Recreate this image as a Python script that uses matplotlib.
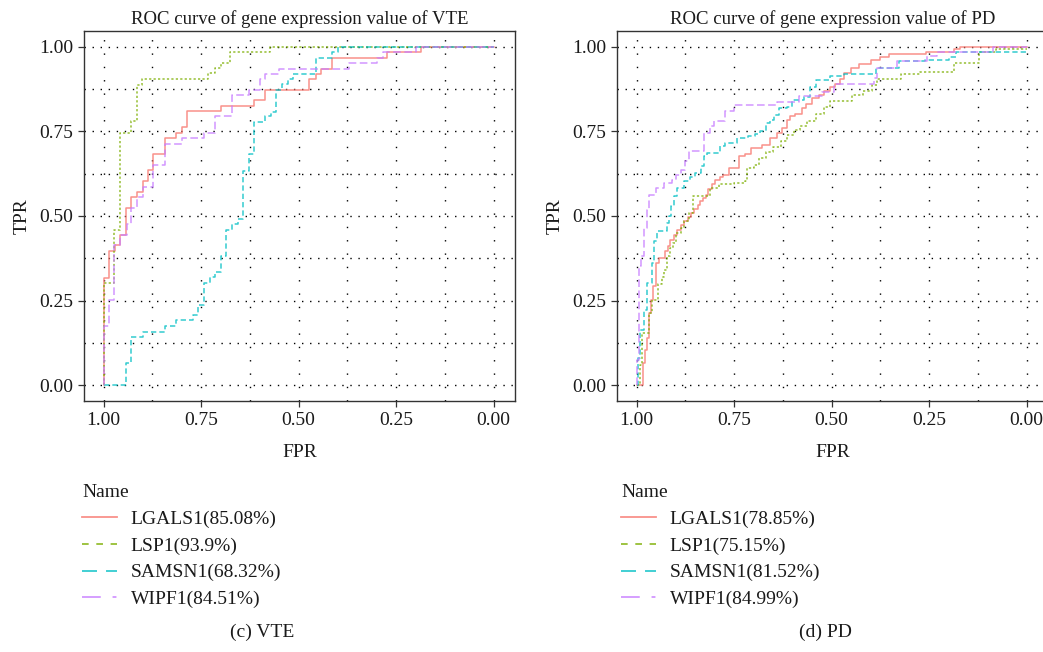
import matplotlib
matplotlib.use("Agg")
import matplotlib.pyplot as plt
from matplotlib.lines import Line2D
from matplotlib.ticker import MultipleLocator

plt.rcParams['font.family'] = ['Liberation Serif', 'DejaVu Serif']
plt.rcParams['lines.scale_dashes'] = False

genes = ["LGALS1", "LSP1", "SAMSN1", "WIPF1"]
vte_auc = ["85.08%", "93.9%", "68.32%", "84.51%"]
pd_auc = ["78.85%", "75.15%", "81.52%", "84.99%"]

# VTE panel, step corners (x = axis value, y = TPR)
vte_lgals1_x = [1.0, 1.0, 0.985, 0.971, 0.957, 0.943, 0.929, 0.915, 0.900, 0.885, 0.872, 0.842,
                0.814, 0.799, 0.786, 0.699, 0.614, 0.585, 0.472, 0.456, 0.442, 0.414, 0.272, 0.185, 0.0]
vte_lgals1_y = [0.0, 0.317, 0.398, 0.413, 0.444, 0.523, 0.555, 0.571, 0.604, 0.635, 0.682, 0.730,
                0.746, 0.762, 0.809, 0.824, 0.841, 0.872, 0.904, 0.919, 0.934, 0.967, 0.983, 1.0, 1.0]

vte_lsp1_x = [1.0, 1.0, 0.972, 0.957, 0.929, 0.914, 0.902, 0.731, 0.714, 0.699, 0.675, 0.573, 0.0]
vte_lsp1_y = [0.0, 0.302, 0.459, 0.746, 0.779, 0.887, 0.904, 0.922, 0.936, 0.951, 0.983, 1.0, 1.0]

vte_samsn1_x = [1.0, 0.943, 0.929, 0.900, 0.842, 0.814, 0.771, 0.757, 0.742, 0.728, 0.714, 0.699,
                0.685, 0.671, 0.656, 0.643, 0.628, 0.614, 0.585, 0.571, 0.557, 0.543, 0.528, 0.513,
                0.456, 0.414, 0.399, 0.0]
vte_samsn1_y = [0.0, 0.066, 0.143, 0.159, 0.176, 0.192, 0.208, 0.238, 0.302, 0.320, 0.334, 0.381,
                0.459, 0.477, 0.492, 0.634, 0.682, 0.777, 0.794, 0.808, 0.872, 0.889, 0.904, 0.919,
                0.967, 0.983, 1.0, 1.0]

vte_wipf1_x = [1.0, 1.0, 0.985, 0.972, 0.957, 0.940, 0.929, 0.914, 0.899, 0.872, 0.842, 0.799,
               0.742, 0.714, 0.671, 0.628, 0.598, 0.585, 0.550, 0.371, 0.299, 0.284, 0.198, 0.0]
vte_wipf1_y = [0.0, 0.176, 0.253, 0.413, 0.444, 0.477, 0.523, 0.555, 0.587, 0.650, 0.713, 0.730,
               0.746, 0.794, 0.856, 0.872, 0.904, 0.919, 0.934, 0.951, 0.967, 0.983, 1.0, 1.0]

# PD panel
pd_lgals1_x = [1.0, 0.983, 0.977, 0.973, 0.968, 0.962, 0.957, 0.951, 0.943, 0.926, 0.920, 0.913,
               0.905, 0.896, 0.887, 0.877, 0.869, 0.860, 0.852, 0.843, 0.836, 0.829, 0.821, 0.816,
               0.806, 0.798, 0.787, 0.777, 0.762, 0.737, 0.721, 0.707, 0.677, 0.659, 0.640, 0.627,
               0.615, 0.606, 0.593, 0.576, 0.566, 0.551, 0.532, 0.520, 0.503, 0.490, 0.479, 0.468,
               0.451, 0.430, 0.400, 0.376, 0.353, 0.259, 0.186, 0.171, 0.0]
pd_lgals1_y = [0.0, 0.066, 0.105, 0.140, 0.214, 0.253, 0.292, 0.361, 0.376, 0.396, 0.410, 0.430,
               0.445, 0.460, 0.474, 0.484, 0.497, 0.509, 0.521, 0.533, 0.543, 0.553, 0.563, 0.580,
               0.593, 0.607, 0.615, 0.622, 0.642, 0.676, 0.683, 0.701, 0.711, 0.730, 0.745, 0.760,
               0.784, 0.794, 0.802, 0.819, 0.831, 0.847, 0.857, 0.869, 0.882, 0.889, 0.904, 0.923,
               0.936, 0.949, 0.961, 0.969, 0.977, 0.983, 0.992, 1.0, 1.0]

pd_lsp1_x = [1.0, 0.990, 0.985, 0.968, 0.960, 0.945, 0.934, 0.930, 0.922, 0.913, 0.906, 0.898,
             0.886, 0.877, 0.866, 0.856, 0.811, 0.789, 0.750, 0.721, 0.716, 0.700, 0.685, 0.669,
             0.650, 0.630, 0.614, 0.595, 0.580, 0.562, 0.540, 0.520, 0.503, 0.447, 0.420, 0.396,
             0.383, 0.323, 0.272, 0.186, 0.122, 0.079, 0.0]
pd_lsp1_y = [0.0, 0.060, 0.154, 0.213, 0.253, 0.300, 0.320, 0.342, 0.381, 0.406, 0.420, 0.450,
             0.465, 0.484, 0.509, 0.560, 0.583, 0.593, 0.597, 0.602, 0.641, 0.650, 0.670, 0.690,
             0.705, 0.720, 0.740, 0.755, 0.767, 0.779, 0.800, 0.823, 0.838, 0.858, 0.870, 0.887,
             0.904, 0.919, 0.926, 0.953, 0.983, 0.993, 0.993]

pd_samsn1_x = [1.0, 0.995, 0.991, 0.981, 0.974, 0.960, 0.954, 0.947, 0.923, 0.917, 0.911, 0.904,
               0.896, 0.879, 0.862, 0.849, 0.835, 0.826, 0.818, 0.785, 0.772, 0.743, 0.713, 0.695,
               0.683, 0.669, 0.657, 0.648, 0.635, 0.615, 0.601, 0.570, 0.554, 0.541, 0.503, 0.468,
               0.387, 0.327, 0.260, 0.200, 0.182, 0.0]
pd_samsn1_y = [0.0, 0.080, 0.164, 0.223, 0.302, 0.361, 0.425, 0.455, 0.479, 0.499, 0.529, 0.558,
               0.583, 0.602, 0.615, 0.627, 0.647, 0.676, 0.686, 0.706, 0.716, 0.730, 0.735, 0.742,
               0.750, 0.774, 0.784, 0.799, 0.818, 0.823, 0.843, 0.850, 0.882, 0.902, 0.912, 0.919,
               0.938, 0.956, 0.961, 0.968, 0.985, 0.985]

pd_wipf1_x = [1.0, 1.0, 0.994, 0.988, 0.981, 0.973, 0.967, 0.951, 0.930, 0.909, 0.900, 0.887,
              0.875, 0.866, 0.828, 0.811, 0.802, 0.772, 0.751, 0.640, 0.584, 0.524, 0.494, 0.391,
              0.383, 0.332, 0.255, 0.229, 0.085, 0.0]
pd_wipf1_y = [0.0, 0.076, 0.351, 0.381, 0.465, 0.519, 0.563, 0.583, 0.597, 0.607, 0.622, 0.637,
              0.661, 0.691, 0.745, 0.765, 0.780, 0.809, 0.829, 0.836, 0.853, 0.867, 0.890, 0.907,
              0.936, 0.956, 0.971, 0.985, 1.0, 1.0]

colors = ['#F8766D', '#7CAE00', '#00BFC4', '#C77CFF']
plot_ls = ['-', (0, (1.6, 1.6)), (0, (3.8, 2.2)), (0, (5.5, 2.5))]
key_ls = ['-', (0, (4.8, 5.5)), (0, (10.8, 6.5)), (0, (13.5, 8.5, 2.8, 8.5))]

fig = plt.figure(figsize=(10.43, 6.52), dpi=100)
W, H = 1043, 652


def draw_panel(left, title, curves, aucs, leg_x, caption, cap_x):
    ax = fig.add_axes([left / W, 1 - 401 / H, 431 / W, 370 / H])
    for (xs, ys), c, ls in zip(curves, colors, plot_ls):
        ax.plot(xs, ys, drawstyle='steps-post', color=c, ls=ls, lw=1.1, alpha=0.8)
    ax.set_xlim(1.05, -0.055)
    ax.set_ylim(-0.046, 1.046)
    ax.set_xticks([1.0, 0.75, 0.5, 0.25, 0.0])
    ax.set_yticks([0.0, 0.25, 0.5, 0.75, 1.0])
    ax.set_xticklabels(['1.00', '0.75', '0.50', '0.25', '0.00'])
    ax.set_yticklabels(['0.00', '0.25', '0.50', '0.75', '1.00'])
    ax.xaxis.set_minor_locator(MultipleLocator(0.125))
    ax.yaxis.set_minor_locator(MultipleLocator(0.125))
    ax.tick_params(which='major', length=4, width=0.9, color='#333333',
                   labelsize=14, labelcolor='#1a1a1a', pad=4)
    ax.tick_params(which='minor', length=0)
    ax.grid(axis='y', which='both', color='black', lw=1.0, ls=(0, (1.0, 4.8)))
    ax.grid(axis='x', which='both', color='black', lw=1.0, ls=(0, (1.0, 8.6)))
    ax.set_axisbelow(True)
    for s in ax.spines.values():
        s.set_color('#333333')
        s.set_linewidth(1.0)
    ax.set_title(title, fontsize=13.5, color='#1a1a1a', pad=5)
    ax.set_xlabel('FPR', fontsize=14, color='#1a1a1a', labelpad=11)
    ax.set_ylabel('TPR', fontsize=14, color='#1a1a1a', labelpad=6)

    handles = [Line2D([], [], color=c, ls=ls, lw=1.3, alpha=0.8) for c, ls in zip(colors, key_ls)]
    labels = [f'{g}({a})' for g, a in zip(genes, aucs)]
    leg = fig.legend(handles, labels, title='Name', loc='upper left',
                     bbox_to_anchor=(leg_x / W, 1 - 484 / H), frameon=False,
                     fontsize=14, title_fontsize=14, handlelength=1.8, handletextpad=0.7,
                     labelspacing=0.47, borderaxespad=0, borderpad=0, alignment='left')
    for t in leg.get_texts():
        t.set_color('#1a1a1a')
    leg.get_title().set_color('#1a1a1a')
    fig.text(cap_x / W, 1 - 632 / H, caption, fontsize=14, color='#1a1a1a',
             ha='center', va='center')
    return ax


vte_curves = [(vte_lgals1_x, vte_lgals1_y), (vte_lsp1_x, vte_lsp1_y),
              (vte_samsn1_x, vte_samsn1_y), (vte_wipf1_x, vte_wipf1_y)]
pd_curves = [(pd_lgals1_x, pd_lgals1_y), (pd_lsp1_x, pd_lsp1_y),
             (pd_samsn1_x, pd_samsn1_y), (pd_wipf1_x, pd_wipf1_y)]

draw_panel(84, 'ROC curve of gene expression value of VTE', vte_curves, vte_auc, 82, '(c) VTE', 262)
draw_panel(617, 'ROC curve of gene expression value of PD', pd_curves, pd_auc, 621, '(d) PD', 825)

fig.savefig('out.png', dpi=100)
